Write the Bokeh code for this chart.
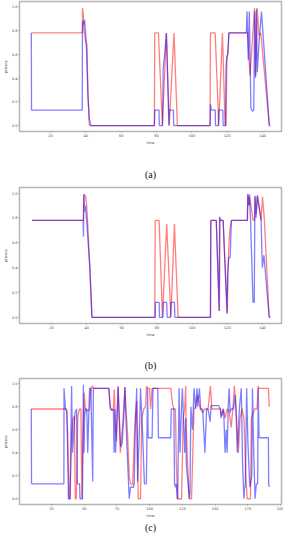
from bokeh.plotting import figure
from bokeh.layouts import column
from bokeh.models import FixedTicker, PrintfTickFormatter, Range1d
from bokeh.core.properties import value
from bokeh.embed import file_html
from bokeh.resources import INLINE

# ---------------- data ----------------
# panel (a)
a_red_x = [9.2, 38.0, 38.2, 38.6, 39.0, 39.5, 40.0, 40.6, 41.3, 42.0, 78.8, 79.0, 81.1, 83.3, 85.6, 87.2, 89.9, 91.8,
           110.3, 110.5, 113.2, 115.2, 117.3, 118.8, 119.3, 119.8, 120.4, 121.0, 130.8, 131.5, 132.9, 134.5, 135.4,
           136.1, 136.9, 138.0, 139.0, 143.8]
a_red_y = [0.78, 0.78, 0.99, 0.93, 0.80, 0.75, 0.70, 0.69, 0.25, 0.0, 0.0, 0.78, 0.78, 0.0, 0.78, 0.0, 0.78, 0.0,
           0.0, 0.78, 0.78, 0.0, 0.78, 0.0, 0.0, 0.55, 0.62, 0.78, 0.78, 0.78, 0.42, 0.78, 0.99,
           0.42, 0.99, 0.76, 0.78, 0.0]
a_blue_x = [9.2, 9.3, 38.0, 38.1, 38.4, 38.8, 39.3, 39.8, 40.4, 41.2, 42.0, 43.0, 78.8, 79.0, 81.4, 81.6, 83.4, 83.8,
            84.6, 85.6, 87.0, 87.3, 89.5, 89.8, 110.3, 110.5, 111.0, 113.2, 113.4, 115.0, 115.2, 117.5, 117.7,
            119.0, 119.3, 119.8, 120.3, 120.9, 130.8, 131.2, 131.9, 132.5, 133.4, 134.3, 135.0, 135.5, 136.0,
            136.5, 137.0, 138.0, 139.4, 143.8, 144.5]
a_blue_y = [0.78, 0.13, 0.13, 0.78, 0.88, 0.85, 0.89, 0.80, 0.65, 0.25, 0.05, 0.0, 0.0, 0.13, 0.13, 0.0, 0.0, 0.48,
            0.60, 0.78, 0.0, 0.13, 0.13, 0.0, 0.0, 0.18, 0.13, 0.13, 0.0, 0.0, 0.13, 0.13, 0.0,
            0.0, 0.48, 0.58, 0.60, 0.78, 0.78, 0.96, 0.55, 0.96, 0.15, 0.12, 0.13, 0.96, 0.40,
            0.98, 0.45, 0.70, 0.96, 0.0, 0.0]

# panel (b)
b_red_x = [8.9, 38.0, 38.5, 39.5, 40.0, 40.5, 41.8, 43.0, 78.7, 79.0, 81.2, 83.1, 85.5, 87.9, 89.9, 92.0,
           110.4, 110.6, 113.7, 115.5, 115.8, 116.2, 117.6, 120.0, 120.3, 120.9, 121.6, 122.4, 131.4, 131.7,
           132.4, 132.7, 134.6, 135.4, 135.8, 136.3, 137.1, 138.5, 139.2, 140.0, 141.0, 143.8]
b_red_y = [0.78, 0.78, 0.99, 0.97, 0.90, 0.78, 0.40, 0.0, 0.0, 0.78, 0.78, 0.0, 0.75, 0.0, 0.75, 0.0,
           0.0, 0.78, 0.78, 0.05, 0.80, 0.78, 0.78, 0.03, 0.35, 0.60, 0.72, 0.78, 0.78, 0.99,
           0.90, 0.97, 0.78, 0.78, 0.97, 0.83, 0.98, 0.85, 0.78, 0.97, 0.80, 0.0]
b_blue_x = [8.9, 38.0, 38.2, 38.4, 38.8, 39.3, 40.0, 41.8, 43.0, 79.0, 79.1, 81.2, 81.4, 83.3, 83.5, 85.5, 85.8,
            87.6, 87.9, 89.9, 90.2, 110.4, 110.6, 113.7, 115.3, 115.6, 116.0, 117.6, 119.8, 120.2, 120.8, 121.6,
            122.3, 131.4, 131.6, 132.1, 132.6, 133.2, 134.6, 135.3, 135.7, 136.3, 137.1, 139.2, 139.9, 140.8,
            143.8, 144.6]
b_blue_y = [0.78, 0.78, 0.65, 0.99, 0.85, 0.90, 0.78, 0.40, 0.0, 0.0, 0.12, 0.12, 0.0, 0.0, 0.12, 0.12, 0.0,
            0.0, 0.12, 0.12, 0.0, 0.0, 0.78, 0.78, 0.05, 0.81, 0.78, 0.78, 0.03, 0.35, 0.48, 0.48,
            0.78, 0.78, 0.99, 0.90, 0.99, 0.78, 0.12, 0.12, 0.98, 0.80, 0.98, 0.78, 0.40, 0.50,
            0.0, 0.0]

# panel (c)
c_red_x = [9.6, 34.5, 36.5, 37.3, 38.5, 39.2, 40.4, 41.5, 42.5, 43.2, 44.0, 45.1, 46.5, 47.5, 48.2, 49.0, 50.0,
           51.0, 52.7, 54.1, 55.1, 56.5, 57.0, 68.8, 70.0, 71.2, 72.3, 73.0, 74.0, 74.7, 75.9, 76.5, 77.6,
           79.0, 80.2, 81.1, 81.8, 83.0, 84.4, 85.4, 87.0, 88.2, 88.9, 90.1, 90.8, 91.3, 93.0, 94.0, 95.5,
           96.8, 97.7, 98.4, 100.0, 100.8, 101.9, 103.1, 116.1, 117.5, 118.5, 119.7, 120.4, 121.4, 124.4,
           125.6, 126.8, 127.5, 128.0, 129.0, 130.3, 132.0, 133.9, 135.1, 136.7, 138.6, 140.5, 142.2, 144.6,
           146.4, 147.5, 154.0, 155.0, 156.0, 157.6, 159.2, 160.7, 162.3, 163.5, 164.7, 166.0, 167.8, 169.0,
           170.6, 172.0, 173.5, 174.5, 177.0, 177.7, 180.1, 182.0, 182.9, 183.6, 190.7, 191.4]
c_red_y = [0.78, 0.78, 0.78, 0.60, 0.0, 0.0, 0.55, 0.70, 0.72, 0.0, 0.0, 0.72, 0.78, 0.78, 0.0, 0.50, 0.92,
           0.78, 0.76, 0.78, 0.96, 0.98, 0.96, 0.96, 0.80, 0.77, 0.78, 0.95, 0.60, 0.50, 0.98, 0.75, 0.40,
           0.60, 0.78, 0.97, 0.80, 0.60, 0.20, 0.13, 0.12, 0.50, 0.70, 0.85, 0.30, 0.0, 0.0, 0.70, 0.78,
           0.80, 0.98, 0.96, 0.96, 0.78, 0.96, 0.96, 0.96, 0.82, 0.78, 0.78, 0.30, 0.0, 0.0,
           0.70, 0.78, 0.98, 0.60, 0.30, 0.0, 0.0, 0.78, 0.80, 0.90, 0.78, 0.75, 0.78, 0.78,
           0.98, 0.78, 0.78, 0.72, 0.78, 0.70, 0.78, 0.76, 0.62, 0.78, 0.98, 0.78, 0.40, 0.70,
           0.78, 0.70, 0.20, 0.0, 0.0, 0.70, 0.78, 0.78, 0.98, 0.96, 0.96, 0.80]
c_blue_x = [9.6, 9.8, 34.5, 34.6, 35.7, 36.8, 38.0, 39.2, 40.4, 41.1, 43.0, 44.2, 44.8, 46.5, 46.8, 48.7, 49.4,
            49.9, 50.3, 51.0, 52.0, 52.7, 54.1, 55.1, 56.5, 57.0, 68.8, 70.0, 71.2, 72.3, 72.8, 73.5, 74.0,
            75.9, 77.8, 79.0, 80.2, 81.1, 82.5, 84.4, 85.4, 87.7, 88.2, 89.0, 90.1, 90.8, 92.5, 93.0, 94.5,
            96.0, 97.5, 98.4, 98.9, 101.9, 102.5, 106.2, 106.7, 116.1, 116.5, 118.5, 119.0, 119.7, 120.4,
            121.0, 121.4, 122.5, 123.2, 124.0, 125.0, 126.8, 127.5, 128.0, 130.3, 130.8, 131.5, 132.7, 133.9,
            135.1, 136.2, 136.7, 138.0, 139.0, 140.5, 142.2, 143.5, 144.6, 146.2, 146.9, 152.7, 154.0, 154.5,
            155.5, 156.5, 157.6, 158.5, 159.2, 160.0, 160.7, 161.5, 162.3, 164.0, 165.5, 167.0, 168.5, 170.0,
            171.0, 172.0, 172.5, 173.0, 174.1, 175.0, 176.5, 177.0, 178.0, 178.5, 179.5, 180.5, 181.5, 182.5,
            182.9, 183.6, 190.7, 190.9, 191.4]
c_blue_y = [0.78, 0.13, 0.13, 0.96, 0.78, 0.76, 0.0, 0.0, 0.98, 0.40, 0.75, 0.78, 0.13, 0.13, 0.0, 0.0, 0.99,
            0.40, 0.72, 0.78, 0.78, 0.40, 0.96, 0.96, 0.15, 0.96, 0.96, 0.78, 0.77, 0.78, 0.40, 0.78, 0.40,
            0.97, 0.45, 0.48, 0.70, 0.97, 0.50, 0.0, 0.10, 0.10, 0.13, 0.60, 0.96, 0.15, 0.70, 0.96, 0.60,
            0.13, 0.13, 0.96, 0.53, 0.53, 0.96, 0.96, 0.53, 0.53, 0.78, 0.78, 0.13, 0.10, 0.13,
            0.0, 0.0, 0.96, 0.40, 0.70, 0.96, 0.40, 0.70, 0.30, 0.0, 0.05, 0.80, 0.60, 0.96,
            0.78, 0.96, 0.80, 0.96, 0.78, 0.78, 0.40, 0.78, 0.78, 0.67, 0.81, 0.81, 0.78, 0.70,
            0.75, 0.78, 0.40, 0.60, 0.40, 0.80, 0.96, 0.75, 0.78, 0.78, 0.90, 0.40, 0.78, 0.96,
            0.30, 0.0, 0.10, 0.10, 0.96, 0.50, 0.10, 0.13, 0.20, 0.96, 0.40, 0.0, 0.13, 0.13,
            0.96, 0.53, 0.53, 0.13, 0.10]

ticks_ab = [20, 40, 60, 80, 100, 120, 140]
ticks_c = [25, 50, 75, 100, 125, 150, 175, 200]
ticks_y = [0.0, 0.2, 0.4, 0.6, 0.8, 1.0]
captions = ["(a)", "(b)", "(c)"]

W = 283
LEFT = 7
RIGHT = 2


def panel(rx, ry, bx, by, xr, xticks, height, top, bottom):
    p = figure(width=W, height=height, output_backend="svg", toolbar_location=None,
               x_range=Range1d(*xr), y_range=Range1d(-0.05, 1.045),
               min_border_left=LEFT, min_border_right=RIGHT, min_border_top=top, min_border_bottom=bottom)
    p.line(rx, ry, line_color="red", line_alpha=0.5, line_width=1.3)
    p.line(bx, by, line_color="blue", line_alpha=0.5, line_width=1.3)
    p.grid.visible = False
    p.outline_line_color = "#b5b5b5"
    p.outline_line_width = 1.5
    p.outline_line_alpha = 1.0
    for ax in (p.xaxis[0], p.yaxis[0]):
        ax.axis_line_color = None
        ax.major_tick_line_color = "#999999"
        ax.major_tick_out = 1
        ax.major_tick_in = 0
        ax.minor_tick_line_color = None
        ax.major_label_text_font_size = "3.5px"
        ax.major_label_text_color = "#444444"
        ax.major_label_standoff = 1
        ax.axis_label_text_font_size = "3.5px"
        ax.axis_label_text_font_style = "normal"
        ax.axis_label_text_color = "#444444"
        ax.axis_label_standoff = 1
        ax.axis_label_text_font = "DejaVu Sans"
        ax.major_label_text_font = "DejaVu Sans"
    p.xaxis.ticker = FixedTicker(ticks=xticks)
    p.yaxis.ticker = FixedTicker(ticks=ticks_y)
    p.yaxis.formatter = PrintfTickFormatter(format="%.1f")
    p.xaxis.axis_label = "time"
    p.yaxis.axis_label = "privacy"
    return p


def caption_fig(label, height):
    c = figure(width=W, height=height, output_backend="svg", toolbar_location=None,
               x_range=Range1d(0, 1), y_range=Range1d(0, 1),
               min_border_left=LEFT, min_border_right=RIGHT, min_border_top=0, min_border_bottom=0)
    c.axis.visible = False
    c.grid.visible = False
    c.outline_line_color = None
    c.text(x=[0.5], y=[0.5], text=[label], text_align="center", text_baseline="middle",
           text_font=value("Liberation Serif"), text_font_size="10px", text_color="#111111")
    return c


pa = panel(a_red_x, a_red_y, a_blue_x, a_blue_y, (2.5, 150.7), ticks_ab, 162, 1, 31)
ca = caption_fig(captions[0], 24)
pb = panel(b_red_x, b_red_y, b_blue_x, b_blue_y, (1.8, 150.8), ticks_ab, 167, 1, 30)
cb = caption_fig(captions[1], 24)
pc = panel(c_red_x, c_red_y, c_blue_x, c_blue_y, (0.6, 200.7), ticks_c, 143, 1, 13)
cc = caption_fig(captions[2], 14)

layout = column(pa, ca, pb, cb, pc, cc, spacing=0)
open("out.html", "w").write(file_html(layout, INLINE))
